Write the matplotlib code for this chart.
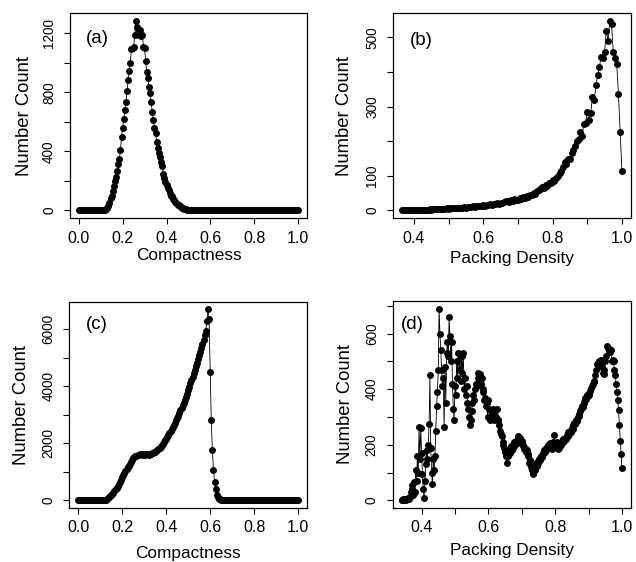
import numpy as np
import matplotlib
matplotlib.use('Agg')
import matplotlib.pyplot as plt

plt.rcParams['font.family'] = ['Liberation Sans', 'DejaVu Sans']

# (a) compactness histogram, bins of 0.005 from 0 to 1
count_a = [
    0, 0, 0, 0, 0, 0, 0, 0, 0, 0, 0, 0, 0, 0, 0, 0, 0, 0, 0, 0,
    0, 0, 0, 0, 3, 8, 15, 30, 50, 85, 100, 135, 165, 200, 225, 270, 315, 345, 410, 500,
    555, 620, 680, 735, 810, 880, 945, 1000, 1090, 1100, 1105, 1190, 1285, 1240, 1230, 1185, 1220, 1180, 1185, 1105,
    1100, 1010, 935, 895, 835, 795, 735, 665, 610, 560, 525, 465, 420, 390, 365, 330, 300, 250, 220, 195,
    170, 150, 140, 120, 100, 95, 80, 70, 60, 50, 40, 35, 28, 25, 20, 15, 12, 10, 8, 6,
    5, 3, 2, 1, 0, 0, 0, 0, 0, 0, 0, 0, 0, 0, 0, 0, 0, 0, 0, 0,
    0, 0, 0, 0, 0, 0, 0, 0, 0, 0, 0, 0, 0, 0, 0, 0, 0, 0, 0, 0,
    0, 0, 0, 0, 0, 0, 0, 0, 0, 0, 0, 0, 0, 0, 0, 0, 0, 0, 0, 0,
    0, 0, 0, 0, 0, 0, 0, 0, 0, 0, 0, 0, 0, 0, 0, 0, 0, 0, 0, 0,
    0, 0, 0, 0, 0, 0, 0, 0, 0, 0, 0, 0, 0, 0, 0, 0, 0, 0, 0, 0,
    0]

# (b) packing density, bins of 0.005 from 0.365 to 1
count_b = [
    0, 1, 0, 1, 1, 0, 1, 1, 2, 1, 2, 1, 2, 2, 2, 2, 3, 2, 3, 3,
    4, 3, 5, 4, 5, 5, 6, 5, 6, 6, 7, 6, 7, 8, 7, 8, 9, 8, 9, 10,
    10, 12, 11, 13, 12, 14, 13, 15, 14, 16, 15, 18, 17, 19, 18, 21, 20, 22, 21, 24,
    26, 28, 24, 30, 27, 32, 29, 31, 35, 33, 38, 36, 42, 40, 46, 44, 50, 48, 55, 58,
    62, 68, 65, 74, 72, 80, 78, 88, 84, 95, 100, 107, 115, 125, 140, 135, 150, 148, 165, 175,
    185, 200, 205, 227, 215, 250, 253, 285, 262, 280, 328, 318, 361, 390, 414, 443, 440, 457, 519, 490,
    548, 538, 457, 440, 424, 336, 227, 114]

# (c) compactness histogram, bins of 0.005 from 0 to 1
count_c = [
    0, 0, 0, 0, 0, 0, 0, 0, 0, 0, 0, 0, 0, 0, 0, 0, 0, 0, 0, 0,
    0, 0, 0, 0, 0, 20, 50, 90, 120, 160, 190, 220, 260, 320, 390, 450, 510, 570, 650, 730,
    810, 880, 950, 1030, 1100, 1170, 1220, 1290, 1350, 1420, 1470, 1510, 1540, 1570, 1590, 1600, 1610, 1615, 1610, 1600,
    1620, 1600, 1610, 1620, 1600, 1630, 1640, 1650, 1660, 1680, 1700, 1730, 1760, 1800, 1840, 1880, 1930, 1980, 2040, 2100,
    2160, 2230, 2300, 2360, 2430, 2500, 2570, 2640, 2720, 2800, 2880, 2970, 3060, 3150, 3240, 3330, 3420, 3520, 3620, 3730,
    3850, 3980, 4100, 4220, 4340, 4460, 4580, 4700, 4820, 4950, 5080, 5210, 5350, 5480, 5620, 5780, 5950, 6300, 6700, 6350,
    4500, 2800, 1750, 1080, 650, 390, 200, 110, 60, 30, 15, 8, 4, 2, 0, 0, 0, 0, 0, 0,
    0, 0, 0, 0, 0, 0, 0, 0, 0, 0, 0, 0, 0, 0, 0, 0, 0, 0, 0, 0,
    0, 0, 0, 0, 0, 0, 0, 0, 0, 0, 0, 0, 0, 0, 0, 0, 0, 0, 0, 0,
    0, 0, 0, 0, 0, 0, 0, 0, 0, 0, 0, 0, 0, 0, 0, 0, 0, 0, 0, 0,
    0]

# (d) packing density, bins of 0.0025 from 0.34 to 1
count_d = [
    2, 0, 3, 1, 4, 2, 5, 3, 8, 5, 12, 30, 55, 40, 20, 65, 30, 110, 70, 160,
    100, 265, 150, 260, 170, 95, 40, 10, 70, 130, 180, 150, 200, 275, 450, 190, 100, 60, 150, 110,
    160, 250, 340, 390, 470, 690, 600, 540, 470, 410, 440, 265, 480, 350, 530, 570, 520, 660, 590, 500,
    570, 420, 330, 290, 410, 380, 500, 440, 530, 470, 525, 430, 520, 460, 530, 400, 440, 380, 410, 350,
    330, 300, 270, 290, 320, 350, 380, 360, 400, 420, 410, 440, 460, 430, 455, 420, 440, 400, 390, 360,
    370, 340, 350, 300, 360, 330, 290, 320, 300, 310, 330, 290, 320, 300, 330, 290, 290, 270, 250, 240,
    230, 210, 200, 190, 175, 160, 135, 170, 160, 180, 170, 195, 180, 200, 190, 210, 200, 215, 205, 220,
    230, 215, 225, 205, 215, 195, 200, 185, 190, 175, 180, 160, 165, 135, 145, 120, 110, 95, 105, 120,
    110, 135, 125, 140, 135, 150, 145, 160, 155, 170, 165, 180, 175, 190, 185, 200, 195, 190, 205, 200,
    185, 205, 210, 235, 200, 195, 210, 185, 195, 190, 205, 200, 215, 210, 220, 215, 225, 220, 235, 230,
    245, 240, 250, 245, 260, 255, 270, 280, 275, 290, 285, 300, 310, 305, 320, 330, 340, 335, 355, 350,
    370, 365, 380, 375, 385, 380, 395, 405, 410, 420, 430, 425, 450, 470, 490, 495, 485, 500, 495, 505,
    480, 460, 455, 470, 500, 520, 555, 550, 540, 545, 535, 540, 500, 505, 500, 470, 450, 420, 390, 360,
    325, 270, 215, 165, 115]

x_a = np.linspace(0.0, 1.0, len(count_a))
x_b = np.linspace(0.365, 1.0, len(count_b))
x_c = np.linspace(0.0, 1.0, len(count_c))
x_d = np.linspace(0.34, 1.0, len(count_d))

panels = [
    (x_a, count_a, '(a)', 'Compactness',
     [0, 0.2, 0.4, 0.6, 0.8, 1.0], ['0.0', '0.2', '0.4', '0.6', '0.8', '1.0'],
     [0, 200, 400, 600, 800, 1000, 1200], ['0', '', '400', '', '800', '', '1200'],
     [0.110, 0.612, 0.3727, 0.3648], (0.068, 0.875), (-0.19, -0.185)),
    (x_b, count_b, '(b)', 'Packing Density',
     [0.4, 0.5, 0.6, 0.7, 0.8, 0.9, 1.0], ['0.4', '', '0.6', '', '0.8', '', '1.0'],
     [0, 100, 200, 300, 400, 500], ['0', '100', '', '300', '', '500'],
     [0.618, 0.612, 0.3737, 0.3648], (0.07, 0.868), (-0.203, -0.195)),
    (x_c, count_c, '(c)', 'Compactness',
     [0, 0.2, 0.4, 0.6, 0.8, 1.0], ['0.0', '0.2', '0.4', '0.6', '0.8', '1.0'],
     [0, 1000, 2000, 3000, 4000, 5000, 6000], ['0', '', '2000', '', '4000', '', '6000'],
     [0.109, 0.0961, 0.3737, 0.3674], (0.07, 0.89), (-0.2, -0.218)),
    (x_d, count_d, '(d)', 'Packing Density',
     [0.4, 0.5, 0.6, 0.7, 0.8, 0.9, 1.0], ['0.4', '', '0.6', '', '0.8', '', '1.0'],
     [0, 100, 200, 300, 400, 500, 600, 700], ['0', '', '200', '', '400', '', '600', ''],
     [0.6175, 0.0961, 0.3742, 0.3683], (0.036, 0.886), (-0.2, -0.205)),
]

fig = plt.figure(figsize=(6.36, 5.62), dpi=100)

for x, y, tag, xlab, xt, xtl, yt, ytl, pos, tagpos, labpos in panels:
    ax = fig.add_axes(pos)
    ax.plot(x, y, '-', color='black', lw=0.6)
    ax.plot(x, y, 'o', color='black', ms=5, mew=0)
    ax.margins(0.04)
    ax.set_xticks(xt)
    ax.set_xticklabels(xtl)
    ax.set_yticks(yt)
    ax.set_yticklabels(ytl, rotation=90, va='center')
    ax.tick_params(direction='out', length=4, width=0.8)
    ax.tick_params(axis='x', labelsize=11.5, pad=5)
    ax.tick_params(axis='y', labelsize=9.8, pad=6)
    for s in ax.spines.values():
        s.set_linewidth(0.9)
    ax.set_xlabel(xlab, fontsize=12.4, va='center')
    ax.set_ylabel('Number Count', fontsize=13.3, va='center')
    ax.yaxis.set_label_coords(labpos[0], 0.5)
    ax.xaxis.set_label_coords(0.5, labpos[1])
    ax.text(tagpos[0], tagpos[1], tag, transform=ax.transAxes, fontsize=13.5,
            ha='left', va='center')

fig.savefig('out.png', dpi=100)
